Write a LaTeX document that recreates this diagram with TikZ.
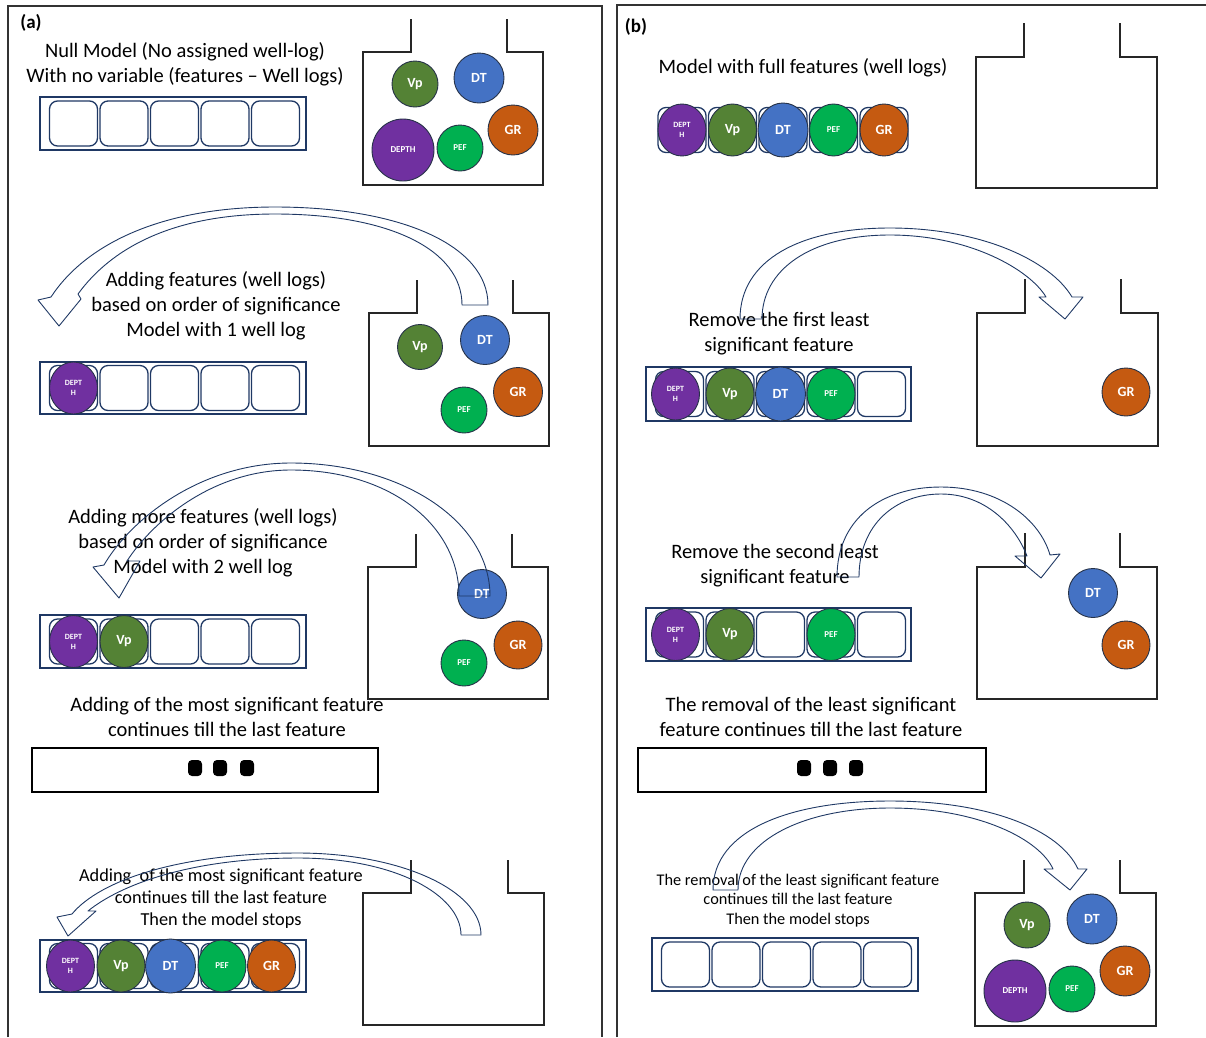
\documentclass[tikz,border=0pt]{standalone}
\usepackage{fontspec}
\setmainfont{Carlito}
\usepackage{tikz}
\usetikzlibrary{shapes.geometric, positioning}
\definecolor{navy}{RGB}{31,56,100}
\definecolor{ballline}{RGB}{38,50,72}
\definecolor{depthc}{RGB}{112,48,160}
\definecolor{vpc}{RGB}{84,130,53}
\definecolor{dtc}{RGB}{68,114,196}
\definecolor{pefc}{RGB}{0,176,80}
\definecolor{grc}{RGB}{197,90,17}

\begin{document}
\begin{tikzpicture}[x=1pt, y=-1pt,
    panel/.style={draw=black!80, line width=1.1pt},
    jar/.style={draw=black!85, line width=1.2pt},
    binframe/.style={draw=navy, line width=2.6pt},
    cell/.style={rectangle, rounded corners=8pt, draw=navy, line width=1.3pt, minimum width=48pt, minimum height=45pt, inner sep=0},
    ball/.style={circle, draw=ballline, line width=0.9pt, text=white, inner sep=0, font=\bfseries\fontsize{14}{14}\selectfont},
    binball/.style={ellipse, draw=ballline, line width=0.9pt, text=white, inner sep=0, minimum width=48pt, minimum height=52pt, font=\bfseries\fontsize{14}{14}\selectfont},
    tiny/.style={font=\bfseries\fontsize{9}{9}\selectfont},
    deptlbl/.style={align=center, font=\bfseries\fontsize{8}{10}\selectfont},
    txt/.style={align=center, inner sep=0, font=\fontsize{20.5}{25}\selectfont},
    smalltxt/.style={align=center, inner sep=0, font=\fontsize{18.3}{22}\selectfont},
    tinytxt/.style={align=center, inner sep=0, font=\fontsize{16.3}{19.5}\selectfont},
    panellbl/.style={inner sep=0, font=\bfseries\fontsize{19}{19}\selectfont},
    dotsbox/.style={draw=black, line width=2.6pt},
    dot/.style={rectangle, rounded corners=4pt, fill=black, minimum width=14pt, minimum height=16pt, inner sep=0},
    blockarrow/.style={draw=navy, line width=0.9pt, line join=round}]

    \useasboundingbox (0,0) rectangle (1206,1037);

    %Panels
    \draw[panel] (8,1037) -- (8,6) -- (602,6) -- (602,1037);
    \draw[panel] (617,1037) -- (617,5) -- (1206,5);
    \node[panellbl] (alabel) at (31,23) {(a)};
    \node[panellbl] (blabel) at (636,27) {(b)};

    %Panel (a), null model
    \node[txt] (a1txt) at (185,64.5) {Null Model (No assigned well-log)\\With no variable (features -- Well logs)};
    \draw[binframe] (40,97) rectangle (306,150);
    \foreach \i in {1,...,5}
        \node[cell] (a1c\i) at (23+50.5*\i,123.5) {};
    \draw[jar] (411,19) |- (363,52) |- (543,185) |- (507,52) -- (507,19);
    \node[ball, fill=vpc, minimum size=46pt] (a1vp) at (415,84) {Vp};
    \node[ball, fill=dtc, minimum size=50pt] (a1dt) at (479,78) {DT};
    \node[ball, fill=depthc, minimum size=62pt, tiny] (a1depth) at (403,150) {DEPTH};
    \node[ball, fill=pefc, minimum size=46pt, tiny] (a1pef) at (460,148) {PEF};
    \node[ball, fill=grc, minimum size=50pt] (a1gr) at (513,130) {GR};

    %Panel (a), one well log
    \node[txt] (a2txt) at (216,306) {Adding features (well logs)\\based on order of significance\\Model with 1 well log};
    \draw[binframe] (40,362) rectangle (306,414);
    \foreach \i in {1,...,5}
        \node[cell] (a2c\i) at (23+50.5*\i,388) {};
    \node[binball, fill=depthc, deptlbl] (a2depth) at (a2c1) {DEPT\\H};
    \draw[jar] (417,280) |- (369,313) |- (549,446) |- (513,313) -- (513,280);
    \node[ball, fill=vpc, minimum size=45pt] (a2vp) at (420,347) {Vp};
    \node[ball, fill=dtc, minimum size=49pt] (a2dt) at (485,340) {DT};
    \node[ball, fill=pefc, minimum size=46pt, tiny] (a2pef) at (464,410) {PEF};
    \node[ball, fill=grc, minimum size=49pt] (a2gr) at (518,392) {GR};

    %Panel (a), two well logs
    \node[txt] (a3txt) at (203,543) {Adding more features (well logs)\\based on order of significance\\Model with 2 well log};
    \draw[binframe] (40,615) rectangle (306,668);
    \foreach \i in {1,...,5}
        \node[cell] (a3c\i) at (23+50.5*\i,641.5) {};
    \node[binball, fill=depthc, deptlbl] (a3depth) at (a3c1) {DEPT\\H};
    \node[binball, fill=vpc] (a3vp) at (a3c2) {Vp};
    \draw[jar] (416,534) |- (368,567) |- (548,699) |- (512,567) -- (512,534);
    \node[ball, fill=dtc, minimum size=49pt] (a3dt) at (482,594) {DT};
    \node[ball, fill=grc, minimum size=48pt] (a3gr) at (518,645) {GR};
    \node[ball, fill=pefc, minimum size=46pt, tiny] (a3pef) at (464,663) {PEF};

    %Panel (a), continues
    \node[txt] (a3more) at (227,716.5) {Adding of the most significant feature\\continues till the last feature};
    \draw[dotsbox] (32,748) rectangle (378,792);
    \node[dot] (adot1) at (195,768) {};
    \node[dot] (adot2) at (220,768) {};
    \node[dot] (adot3) at (247,768) {};

    %Panel (a), full model
    \node[smalltxt] (a4txt) at (221,899) {Adding\ \ of the most significant feature\\continues till the last feature\\Then the model stops};
    \draw[binframe] (40,940) rectangle (306,992);
    \foreach \i in {1,...,5}
        \node[cell] (a4c\i) at (23+50.5*\i,966) {};
    \node[binball, fill=depthc, deptlbl] (a4depth) at ([xshift=-3pt]a4c1) {DEPT\\H};
    \node[binball, fill=vpc] (a4vp) at ([xshift=-3pt]a4c2) {Vp};
    \node[binball, fill=dtc, minimum width=50pt, minimum height=54pt] (a4dt) at ([xshift=-4pt]a4c3) {DT};
    \node[binball, fill=pefc, tiny] (a4pef) at ([xshift=-3pt]a4c4) {PEF};
    \node[binball, fill=grc] (a4gr) at ([xshift=-4pt]a4c5) {GR};
    \draw[jar] (411,860) |- (363,893) |- (544,1025) |- (508,893) -- (508,860);

    %Panel (b), full model
    \node[txt] (b1txt) at (803,68) {Model with full features (well logs)};
    \foreach \i in {1,...,5}
        \node[cell] (b1c\i) at (631.5+50.5*\i,130) {};
    \node[binball, fill=depthc, deptlbl] (b1depth) at (b1c1) {DEPT\\H};
    \node[binball, fill=vpc] (b1vp) at (b1c2) {Vp};
    \node[binball, fill=dtc, minimum width=50pt, minimum height=54pt] (b1dt) at (b1c3) {DT};
    \node[binball, fill=pefc, tiny] (b1pef) at (b1c4) {PEF};
    \node[binball, fill=grc] (b1gr) at (b1c5) {GR};
    \draw[jar] (1024,23) |- (976,57) |- (1157,188) |- (1120,57) -- (1120,23);

    %Panel (b), first removal
    \node[txt] (b2txt) at (779,334) {Remove the first least\\significant feature};
    \draw[binframe] (646,367) rectangle (911,421);
    \foreach \i in {1,...,5}
        \node[cell] (b2c\i) at (629+50.5*\i,394) {};
    \node[binball, fill=depthc, deptlbl] (b2depth) at ([xshift=-4pt]b2c1) {DEPT\\H};
    \node[binball, fill=vpc] (b2vp) at (b2c2) {Vp};
    \node[binball, fill=dtc, minimum width=50pt, minimum height=54pt] (b2dt) at (b2c3) {DT};
    \node[binball, fill=pefc, tiny] (b2pef) at (b2c4) {PEF};
    \draw[jar] (1025,279) |- (977,313) |- (1158,446) |- (1121,313) -- (1121,279);
    \node[ball, fill=grc, minimum size=48pt] (b2gr) at (1126,392) {GR};

    %Panel (b), second removal
    \node[txt] (b3txt) at (775,565.5) {Remove the second least\\significant feature};
    \draw[binframe] (646,608) rectangle (911,661);
    \foreach \i in {1,...,5}
        \node[cell] (b3c\i) at (629+50.5*\i,634.5) {};
    \node[binball, fill=depthc, deptlbl] (b3depth) at ([xshift=-4pt]b3c1) {DEPT\\H};
    \node[binball, fill=vpc] (b3vp) at (b3c2) {Vp};
    \node[binball, fill=pefc, tiny] (b3pef) at (b3c4) {PEF};
    \draw[jar] (1025,533) |- (977,567) |- (1157,699) |- (1120,567) -- (1120,533);
    \node[ball, fill=dtc, minimum size=49pt] (b3dt) at (1093,593) {DT};
    \node[ball, fill=grc, minimum size=48pt] (b3gr) at (1126,645) {GR};

    %Panel (b), continues
    \node[txt] (b3more) at (811,717) {The removal of the least significant\\feature continues till the last feature};
    \draw[dotsbox] (638,748) rectangle (986,792);
    \node[dot] (bdot1) at (804,768) {};
    \node[dot] (bdot2) at (830,768) {};
    \node[dot] (bdot3) at (856,768) {};

    %Panel (b), empty model
    \node[tinytxt] (b4txt) at (798,900.5) {The removal of the least significant feature\\continues till the last feature\\Then the model stops};
    \draw[binframe] (652,938) rectangle (918,991);
    \foreach \i in {1,...,5}
        \node[cell] (b4c\i) at (635+50.5*\i,964.5) {};
    \draw[jar] (1024,860) |- (975,893) |- (1156,1026) |- (1120,893) -- (1120,860);
    \node[ball, fill=vpc, minimum size=46pt] (b4vp) at (1027,925) {Vp};
    \node[ball, fill=dtc, minimum size=50pt] (b4dt) at (1092,919) {DT};
    \node[ball, fill=grc, minimum size=50pt] (b4gr) at (1125,971) {GR};
    \node[ball, fill=depthc, minimum size=62pt, tiny] (b4depth) at (1015,991) {DEPTH};
    \node[ball, fill=pefc, minimum size=46pt, tiny] (b4pef) at (1072,989) {PEF};

    %Arrows
    \draw[blockarrow] (462,305) -- (488,305) .. controls (488,245) and (400,207) .. (275,207)
        .. controls (160,207) and (85,245) .. (51,297) -- (38,300) -- (59,326) -- (81,299) -- (78,294)
        .. controls (110,250) and (170,214) .. (275,214) .. controls (390,214) and (462,250) .. cycle;
    \draw[blockarrow] (459,596) -- (490,596) .. controls (490,520) and (400,463) .. (291,463)
        .. controls (200,463) and (130,520) .. (104,565) -- (93,567) -- (119,598) -- (140,561) -- (127,561)
        .. controls (150,525) and (210,470) .. (291,470) .. controls (390,470) and (459,525) .. cycle;
    \draw[blockarrow] (461,935) -- (481,935) .. controls (481,890) and (400,853) .. (298,853)
        .. controls (180,853) and (100,880) .. (72,914) -- (57,917) -- (68,936) -- (96,911) -- (88,911)
        .. controls (120,885) and (190,858) .. (298,858) .. controls (395,858) and (461,895) .. cycle;
    \draw[blockarrow] (762,319) -- (740,319) .. controls (740,260) and (800,228) .. (890,228)
        .. controls (980,228) and (1050,260) .. (1072,297) -- (1083,297) -- (1065,319) -- (1039,297) -- (1046,297)
        .. controls (1030,270) and (970,235) .. (890,235) .. controls (810,235) and (762,270) .. cycle;
    \draw[blockarrow] (859,577) -- (837,577) .. controls (837,520) and (880,487) .. (941,487)
        .. controls (1000,487) and (1040,520) .. (1050,555) -- (1060,554) -- (1041,578) -- (1015,556) -- (1027,556)
        .. controls (1015,525) and (985,494) .. (941,494) .. controls (895,494) and (859,525) .. cycle;
    \draw[blockarrow] (738,890) -- (713,890) .. controls (713,830) and (790,801) .. (890,801)
        .. controls (990,801) and (1060,830) .. (1078,869) -- (1087,869) -- (1070,890) -- (1044,869) -- (1053,869)
        .. controls (1040,840) and (980,808) .. (890,808) .. controls (805,808) and (738,840) .. cycle;

\end{tikzpicture}
\end{document}
